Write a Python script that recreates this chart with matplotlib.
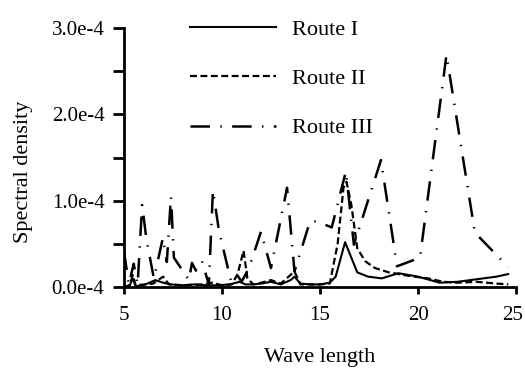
import matplotlib
matplotlib.use("Agg")
import matplotlib.pyplot as plt
from matplotlib.ticker import FixedLocator, FuncFormatter
from matplotlib.transforms import ScaledTranslation

plt.rcParams["font.family"] = ["Liberation Serif", "DejaVu Serif"]
plt.rcParams["lines.scale_dashes"] = False

# spectral density values are in units of 1e-4
route1_x = [5.0, 5.3, 5.45, 5.6, 6.0, 6.6, 7.0, 7.4, 8.0, 8.6, 9.2, 9.8, 10.4, 10.9,
            11.2, 11.6, 12.0, 12.5, 13.0, 13.5, 13.7, 14.0, 14.5, 15.0, 15.5, 15.8,
            16.28, 16.9, 17.45, 18.15, 19.0, 20.0, 21.1, 22.0, 23.0, 24.0, 24.6]
route1_y = [0.0, 0.02, 0.1, 0.01, 0.02, 0.08, 0.05, 0.03, 0.02, 0.03, 0.02, 0.02, 0.03, 0.06,
            0.03, 0.03, 0.04, 0.06, 0.03, 0.08, 0.12, 0.04, 0.03, 0.03, 0.05, 0.12,
            0.52, 0.17, 0.12, 0.1, 0.16, 0.12, 0.05, 0.06, 0.09, 0.12, 0.15]

route2_x = [5.0, 5.3, 5.45, 5.6, 6.5, 7.0, 7.3, 8.0, 9.0, 9.5, 10.0, 10.5, 10.8, 11.1,
            11.3, 11.6, 12.0, 12.5, 13.0, 13.7, 14.0, 15.0, 15.5, 15.9, 16.2, 16.35,
            16.6, 16.9, 17.3, 17.8, 18.5, 19.5, 20.5, 21.3, 22.0, 23.0, 24.0, 24.6]
route2_y = [0.0, 0.02, 0.14, 0.02, 0.04, 0.12, 0.03, 0.02, 0.03, 0.05, 0.02, 0.03, 0.15, 0.42,
            0.1, 0.03, 0.05, 0.08, 0.04, 0.18, 0.03, 0.03, 0.04, 0.5, 1.15, 1.22,
            0.95, 0.45, 0.3, 0.22, 0.17, 0.13, 0.1, 0.06, 0.05, 0.06, 0.04, 0.03]

route3_x = [5.0, 5.25, 5.5, 5.7, 5.93, 6.15, 6.53, 6.99, 7.19, 7.4, 7.55, 8.32, 8.47,
            8.67, 8.98, 9.33, 9.54, 9.85, 10.45, 10.75, 11.0, 11.38, 11.99, 12.5, 13.32,
            13.7, 14.49, 14.85, 15.6, 16.32, 16.73, 18.11, 18.93, 20.1, 21.45, 22.9, 24.6]
route3_y = [0.42, 0.03, 0.27, 0.03, 0.95, 0.55, 0.1, 0.57, 0.29, 1.05, 0.34, 0.08, 0.28,
            0.19, 0.3, 0.03, 1.12, 0.65, 0.08, 0.15, 0.06, 0.22, 0.64, 0.22, 1.15,
            0.18, 0.76, 0.76, 0.69, 1.34, 0.49, 1.47, 0.24, 0.34, 2.69, 0.63, 0.23]

labels = ["Route I", "Route II", "Route III"]
x_ticks = [5, 10, 15, 20, 25]
y_ticks = [0.0, 1.0, 2.0, 3.0]
y_minor = [0.5, 1.5, 2.5]


def main() -> None:
    fig = plt.figure(figsize=(5.25, 3.71), dpi=100)
    ax = fig.add_axes([0.236, 0.2264, 0.747, 0.698])

    ax.plot(route1_x, route1_y, color="black", lw=1.5, label=labels[0])
    ax.plot(route2_x, route2_y, color="black", lw=1.6, linestyle=(0, (5, 2.5)), label=labels[1])
    ax.plot(route3_x, route3_y, color="black", lw=1.8, linestyle=(0, (14, 7.5, 1, 7.5)), label=labels[2])

    ax.set_xlim(5, 25)
    ax.set_ylim(0, 3)
    ax.xaxis.set_major_locator(FixedLocator(x_ticks))
    ax.yaxis.set_major_locator(FixedLocator(y_ticks))
    ax.yaxis.set_minor_locator(FixedLocator(y_minor))
    ax.yaxis.set_major_formatter(FuncFormatter(lambda v, _: f"{v:.1f}e-4"))

    for side in ("top", "right"):
        ax.spines[side].set_visible(False)
    for side in ("left", "bottom"):
        ax.spines[side].set_linewidth(2)

    ax.tick_params(axis="y", which="both", direction="out", length=8, width=2, pad=6, labelsize=15)
    ax.tick_params(axis="x", which="both", direction="out", length=5, width=2, pad=9, labelsize=15)

    # keep the last x label inside the figure
    xlabels = ax.set_xticklabels([str(t) for t in x_ticks])
    xlabels[-1].set_transform(xlabels[-1].get_transform() + ScaledTranslation(-4 / 100, 0, fig.dpi_scale_trans))

    ax.set_xlabel("Wave length", fontsize=16)
    ax.set_ylabel("Spectral density", fontsize=16)
    ax.xaxis.set_label_coords(0.5, -0.235)
    ax.yaxis.set_label_coords(-0.232, 0.444)

    ax.legend(
        loc="upper left",
        bbox_to_anchor=(0.168, 1.035),
        frameon=False,
        fontsize=16,
        handlelength=3.9,
        handletextpad=0.7,
        labelspacing=1.3,
        borderpad=0,
        borderaxespad=0,
    )

    fig.savefig("out.png", dpi=100)


if __name__ == "__main__":
    main()
